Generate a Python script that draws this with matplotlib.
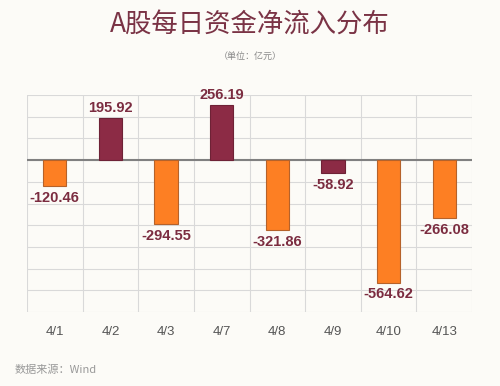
import numpy as np
import matplotlib.pyplot as plt

plt.rcParams['font.family'] = ['Noto Sans CJK SC', 'DejaVu Sans']

# ── Data ──────────────────────────────────────────────────────────────────────
dates = ["4/1", "4/2", "4/3", "4/7", "4/8", "4/9", "4/10", "4/13"]
inflow = [-120.46, 195.92, -294.55, 256.19, -321.86, -58.92, -564.62, -266.08]
bar_colors = ["#FD7F23", "#8C2B45", "#FD7F23", "#8C2B45",
              "#FD7F23", "#8C2B45", "#FD7F23", "#FD7F23"]
edge_colors = ["#B5622A", "#6E2236", "#B5622A", "#6E2236",
               "#B5622A", "#6E2236", "#B5622A", "#B5622A"]

bg = "#FCFBF7"
label_color = "#7B2C40"

fig = plt.figure(figsize=(5, 3.86), dpi=100, facecolor=bg)
ax = fig.add_axes([27 / 500, 1 - 312 / 386, 445 / 500, 217 / 386])
ax.set_facecolor(bg)

x = np.arange(len(dates))
ax.bar(x, inflow, width=0.42, color=bar_colors, edgecolor=edge_colors,
       linewidth=0.8, zorder=3)

# value labels just past the end of each bar
for xi, v in zip(x, inflow):
    off = 12 if v > 0 else -22
    ax.text(xi, v + off, f"{v:.2f}", ha='center',
            va='bottom' if v > 0 else 'top', fontsize=10.5, fontweight='bold',
            color=label_color, family=['Liberation Sans', 'DejaVu Sans'], zorder=4)

ax.set_xlim(-0.5, len(dates) - 0.5)
ax.set_ylim(-700, 300)
ax.set_yticks(np.arange(-700, 301, 100))
ax.set_yticklabels([])
ax.set_xticks(np.arange(-0.5, len(dates), 1), minor=False)
ax.set_xticklabels([])
ax.set_xticks(x, minor=True)
ax.set_xticklabels(dates, minor=True, fontsize=9.5, color="#555555",
                   family=['Liberation Sans', 'DejaVu Sans'])
ax.tick_params(which='both', length=0, pad=10)
ax.grid(True, which='major', color="#D9D9D9", linewidth=0.8, zorder=0)
ax.axhline(0, color="#808080", linewidth=1.5, zorder=2)
for s in ax.spines.values():
    s.set_visible(False)

fig.text(0.5, 1 - 25 / 386, "A股每日资金净流入分布", ha='center', va='center',
         fontsize=19, color="#7A3345")
fig.text(0.5, 1 - 56 / 386, "（单位：亿元）", ha='center', va='center',
         fontsize=6.5, color="#888888")
fig.text(15 / 500, 1 - 370 / 386, "数据来源：Wind", ha='left', va='center',
         fontsize=8, color="#999999")

plt.savefig("out.png", dpi=100, facecolor=bg)
